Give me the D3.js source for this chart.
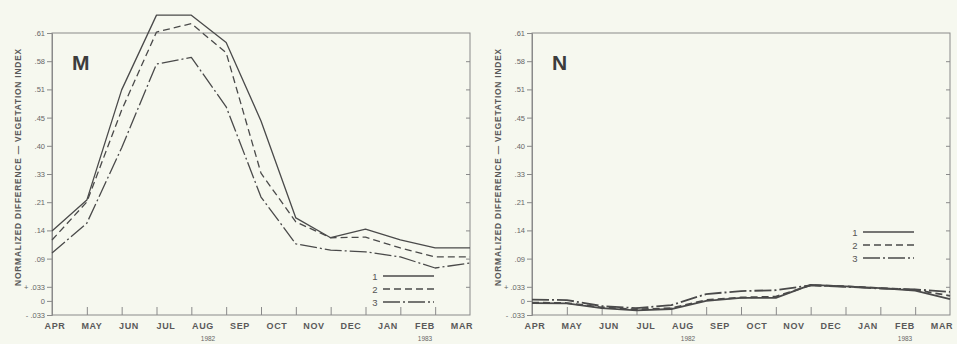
<!DOCTYPE html>
<html>
<head>
<meta charset="utf-8">
<script src="https://cdn.jsdelivr.net/npm/d3@7/dist/d3.min.js"></script>
<style>
  html, body { margin: 0; padding: 0; background: #f6f8ef; }
  svg { display: block; }
  text { font-family: "Liberation Sans", Arial, sans-serif; }
</style>
</head>
<body>
<svg id="chart" width="957" height="344"></svg>
<script>
// Month labels along the bottom (April 1982 - March 1983)
const months = ["APR", "MAY", "JUN", "JUL", "AUG", "SEP", "OCT", "NOV", "DEC", "JAN", "FEB", "MAR"];
// Year captions and the month each sits under
const yearLabels = ["1982", "1983"];
const yearMonths = ["AUG", "FEB"];

// Vegetation index axis: ticks evenly spaced, values not linear
const tickValues = [-0.033, 0, 0.033, 0.09, 0.14, 0.21, 0.33, 0.40, 0.45, 0.51, 0.58, 0.61];
const tickLabels = ["- .033", "0", "+ .033", ".09", ".14", ".21", ".33", ".40", ".45", ".51", ".58", ".61"];

const seriesNames = ["1", "2", "3"];

// Panel M: 13 monthly readings, April 1982 through April 1983
const m1 = [0.139, 0.219, 0.509, 0.629, 0.629, 0.600, 0.444, 0.171, 0.127, 0.143, 0.123, 0.109, 0.109];
const m2 = [0.123, 0.211, 0.466, 0.611, 0.620, 0.589, 0.332, 0.161, 0.127, 0.128, 0.109, 0.093, 0.093];
const m3 = [0.100, 0.158, 0.395, 0.573, 0.584, 0.473, 0.232, 0.116, 0.105, 0.102, 0.093, 0.071, 0.081];

// Panel N
const n1 = [-0.005, -0.006, -0.017, -0.022, -0.019, 0.000, 0.007, 0.007, 0.037, 0.034, 0.030, 0.024, 0.004];
const n2 = [-0.004, -0.005, -0.015, -0.020, -0.017, 0.002, 0.008, 0.010, 0.036, 0.034, 0.030, 0.026, 0.012];
const n3 = [0.003, 0.002, -0.012, -0.017, -0.010, 0.016, 0.023, 0.025, 0.036, 0.033, 0.029, 0.027, 0.021];

const svg = d3.select("#chart");
const W = 418, H = 282;
const ink = "#4a4a4a";
const dashes = [null, "7,4", "17,3,2,3"];

// Tick slots: first two half steps, then whole steps
const slots = tickValues.map((d, i) => (i < 2 ? i * 0.5 : i - 1));
const y = d3.scaleLinear().domain(tickValues).range(slots.map(s => H - s * H / 10));
const x = d3.scaleLinear().domain([0, 12]).range([0, W]);
const xLab = d3.scalePoint().domain(months).range([3, 410]);

function panel(left, letter, data, legendTop, strokeW) {
  const g = svg.append("g").attr("transform", `translate(${left},33)`);

  // frame
  g.append("rect").attr("width", W).attr("height", H)
    .attr("fill", "none").attr("stroke", "#8a8a8a").attr("stroke-width", 1);

  // left axis with labels
  const ay = g.append("g").call(d3.axisLeft(y).tickValues(tickValues)
    .tickFormat((d, i) => tickLabels[i]).tickSize(5).tickPadding(2));
  ay.select(".domain").attr("stroke", "#8a8a8a");
  ay.selectAll(".tick line").attr("stroke", "#8a8a8a");
  ay.selectAll("text").attr("fill", "#666").style("font-size", "7.5px");

  // inner ticks on the right border
  const ar = g.append("g").attr("transform", `translate(${W},0)`)
    .call(d3.axisLeft(y).tickValues(tickValues.slice(2, 11)).tickSize(4).tickFormat(""));
  ar.select(".domain").remove();
  ar.selectAll(".tick line").attr("stroke", "#8a8a8a");

  // inner month ticks on the bottom
  const ab = g.append("g").attr("transform", `translate(0,${H})`)
    .call(d3.axisBottom(x).tickValues(d3.range(1, 12)).tickSize(-8).tickFormat(""));
  ab.select(".domain").remove();
  ab.selectAll(".tick line").attr("stroke", "#8a8a8a");

  // month labels
  g.selectAll(".mon").data(months).join("text")
    .attr("x", d => xLab(d)).attr("y", H + 14)
    .attr("text-anchor", "middle").attr("fill", "#5a5a5a")
    .style("font-size", "9px").style("font-weight", "bold").style("letter-spacing", "0.6px")
    .text(d => d);

  // year captions
  g.selectAll(".yr").data(yearLabels).join("text")
    .attr("x", (d, i) => xLab(yearMonths[i]) + (i === 0 ? 5 : 0)).attr("y", H + 26)
    .attr("text-anchor", "middle").attr("fill", "#666")
    .style("font-size", "6.5px").text(d => d);

  // vertical axis title
  g.append("text")
    .attr("transform", `translate(-34,${H / 2 - 7}) rotate(-90)`)
    .attr("text-anchor", "middle").attr("dy", "0.35em").attr("fill", "#5a5a5a")
    .style("font-size", "8.4px").style("font-weight", "bold").style("letter-spacing", "0.8px")
    .text("NORMALIZED DIFFERENCE — VEGETATION INDEX");

  // panel letter
  g.append("text").attr("x", 20).attr("y", 37)
    .attr("fill", "#3c3c3c").style("font-size", "21px").style("font-weight", "bold")
    .text(letter);

  // data lines
  const line = d3.line().x((d, i) => x(i)).y(d => y(d));
  data.forEach((s, k) => {
    g.append("path").datum(s).attr("d", line)
      .attr("fill", "none").attr("stroke", ink).attr("stroke-width", strokeW)
      .attr("stroke-dasharray", dashes[k]).attr("stroke-linejoin", "round");
  });

  // legend
  const lg = g.append("g").attr("transform", `translate(0,${legendTop})`);
  seriesNames.forEach((nm, k) => {
    lg.append("text").attr("x", 323).attr("y", k * 13 + 3.5)
      .attr("text-anchor", "middle").attr("fill", "#555")
      .style("font-size", "9.5px").text(nm);
    lg.append("line").attr("x1", 331).attr("x2", 382)
      .attr("y1", k * 13).attr("y2", k * 13)
      .attr("stroke", ink).attr("stroke-width", 1.3)
      .attr("stroke-dasharray", dashes[k]);
  });
}

panel(52, "M", [m1, m2, m3], 243, 1.3);
panel(532, "N", [n1, n2, n3], 199, 1.8);
</script>
</body>
</html>
